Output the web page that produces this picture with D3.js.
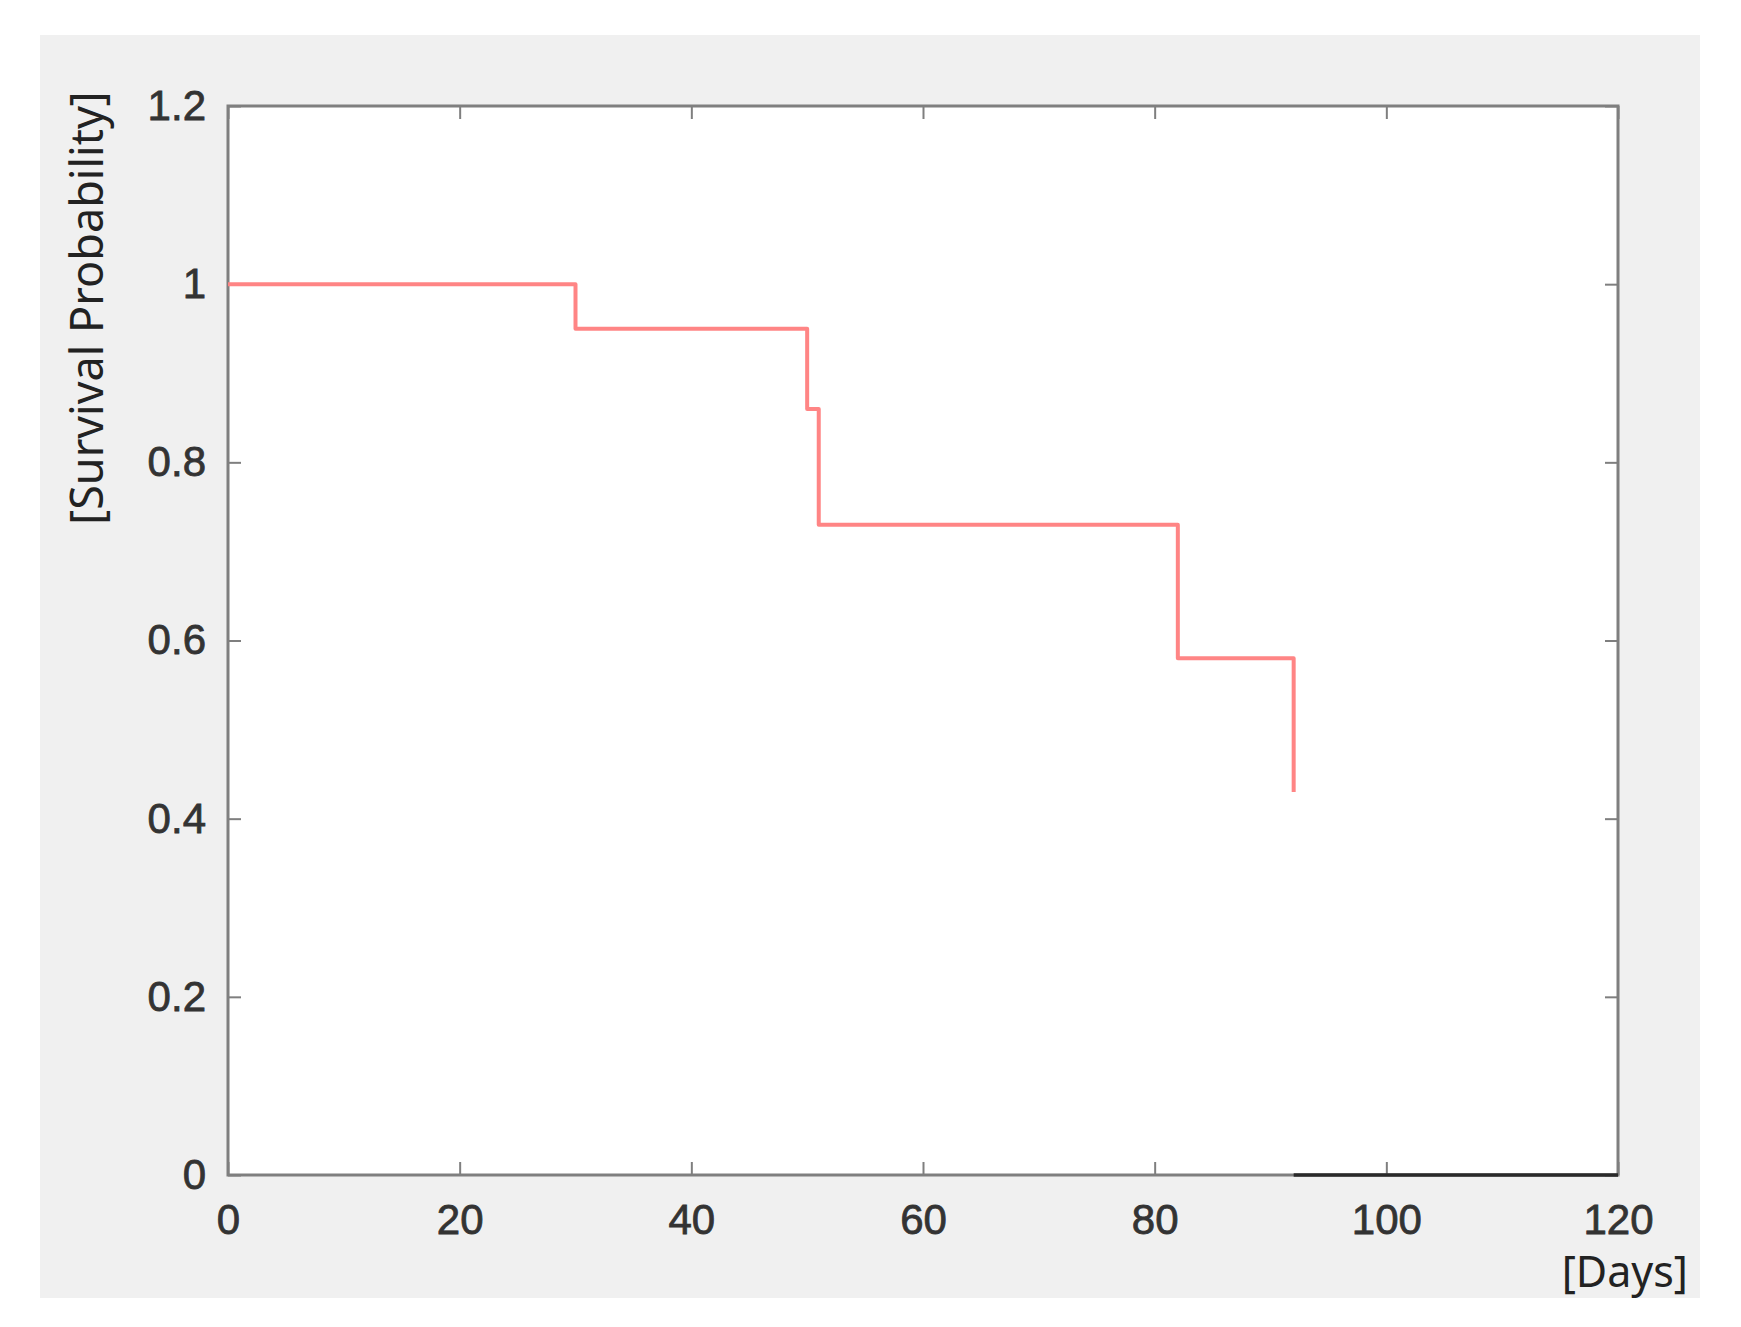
<!DOCTYPE html>
<html>
<head>
<meta charset="utf-8">
<script src="https://cdn.jsdelivr.net/npm/d3@7"></script>
<style>
  body { margin: 0; background: #fff; }
  svg { display: block; }
</style>
</head>
<body>
<div id="chart"></div>
<script>
// survival curve (stairs)
const days = [0, 30, 50, 51, 82, 92];
const survival = [1, 0.95, 0.86, 0.73, 0.58, 0.43];
// black segment along the x axis after the last event
const zeroDays = [92, 120];
const zeroValues = [0, 0];

const xTicks = [0, 20, 40, 60, 80, 100, 120];
const yTicks = [0, 0.2, 0.4, 0.6, 0.8, 1, 1.2];

const W = 1741, H = 1327;
const margin = { top: 106, right: 123, bottom: 152, left: 228 };
const width = W - margin.left - margin.right,
      height = H - margin.top - margin.bottom;

const svg = d3.select("#chart")
    .append("svg")
    .attr("width", W)
    .attr("height", H);

// grey figure panel
svg.append("rect")
    .attr("x", 40).attr("y", 35)
    .attr("width", 1660).attr("height", 1263)
    .attr("fill", "#f0f0f0");

const g = svg.append("g")
    .attr("transform", "translate(" + margin.left + "," + margin.top + ")");

g.append("rect")
    .attr("width", width).attr("height", height)
    .attr("fill", "#fff");

const x = d3.scaleLinear().domain([0, 120]).range([0, width]);
const y = d3.scaleLinear().domain([0, 1.2]).range([height, 0]);

const tickLen = 13;
const axisColor = "#7f7f7f";
const labelColor = "#333";

function styleAxis(sel) {
    sel.select(".domain").remove();
    sel.selectAll(".tick line").attr("stroke", axisColor).attr("stroke-width", 2);
    sel.selectAll(".tick text")
        .attr("fill", labelColor)
        .attr("stroke", labelColor)
        .attr("stroke-width", 0.8)
        .style("font-family", "'Liberation Sans', Arial, sans-serif")
        .style("font-size", "42px");
}

// bottom / left with labels, ticks pointing inward
g.append("g")
    .attr("transform", "translate(0," + height + ")")
    .call(d3.axisBottom(x).tickValues(xTicks).tickSizeInner(-tickLen).tickSizeOuter(0).tickPadding(25).tickFormat(d3.format("d")))
    .call(styleAxis)
    .selectAll(".tick text").attr("dy", "0.8em");

g.append("g")
    .call(d3.axisLeft(y).tickValues(yTicks).tickSizeInner(-tickLen).tickSizeOuter(0).tickPadding(22).tickFormat(d => d3.format("")(+d.toFixed(1))))
    .call(styleAxis);

// top / right ticks only
g.append("g")
    .call(d3.axisTop(x).tickValues(xTicks).tickSizeInner(-tickLen).tickSizeOuter(0).tickFormat(""))
    .call(styleAxis);
g.append("g")
    .attr("transform", "translate(" + width + ",0)")
    .call(d3.axisRight(y).tickValues(yTicks).tickSizeInner(-tickLen).tickSizeOuter(0).tickFormat(""))
    .call(styleAxis);

// box
g.append("rect")
    .attr("width", width).attr("height", height)
    .attr("fill", "none")
    .attr("stroke", axisColor)
    .attr("stroke-width", 3);

const line = d3.line()
    .x(d => x(d[0]))
    .y(d => y(d[1]))
    .curve(d3.curveStepAfter);

g.append("path")
    .datum(zeroDays.map((d, i) => [d, zeroValues[i]]))
    .attr("d", d3.line().x(d => x(d[0])).y(d => y(d[1])))
    .attr("fill", "none")
    .attr("stroke", "#2a2a2a")
    .attr("stroke-width", 3.5);

g.append("path")
    .datum(days.map((d, i) => [d, survival[i]]))
    .attr("d", line)
    .attr("fill", "none")
    .attr("stroke", "#ff8585")
    .attr("stroke-width", 4)
    .attr("stroke-linejoin", "round");

// axis labels
svg.append("text")
    .attr("transform", "translate(103,308) rotate(-90)")
    .attr("text-anchor", "middle")
    .attr("fill", "#222")
    .style("font-family", "'Noto Sans', sans-serif")
    .style("font-size", "45px")
    .text("[Survival Probability]");

svg.append("text")
    .attr("x", 1688)
    .attr("y", 1287)
    .attr("text-anchor", "end")
    .attr("fill", "#222")
    .style("font-family", "'Noto Sans', sans-serif")
    .style("font-size", "43px")
    .text("[Days]");
</script>
</body>
</html>
